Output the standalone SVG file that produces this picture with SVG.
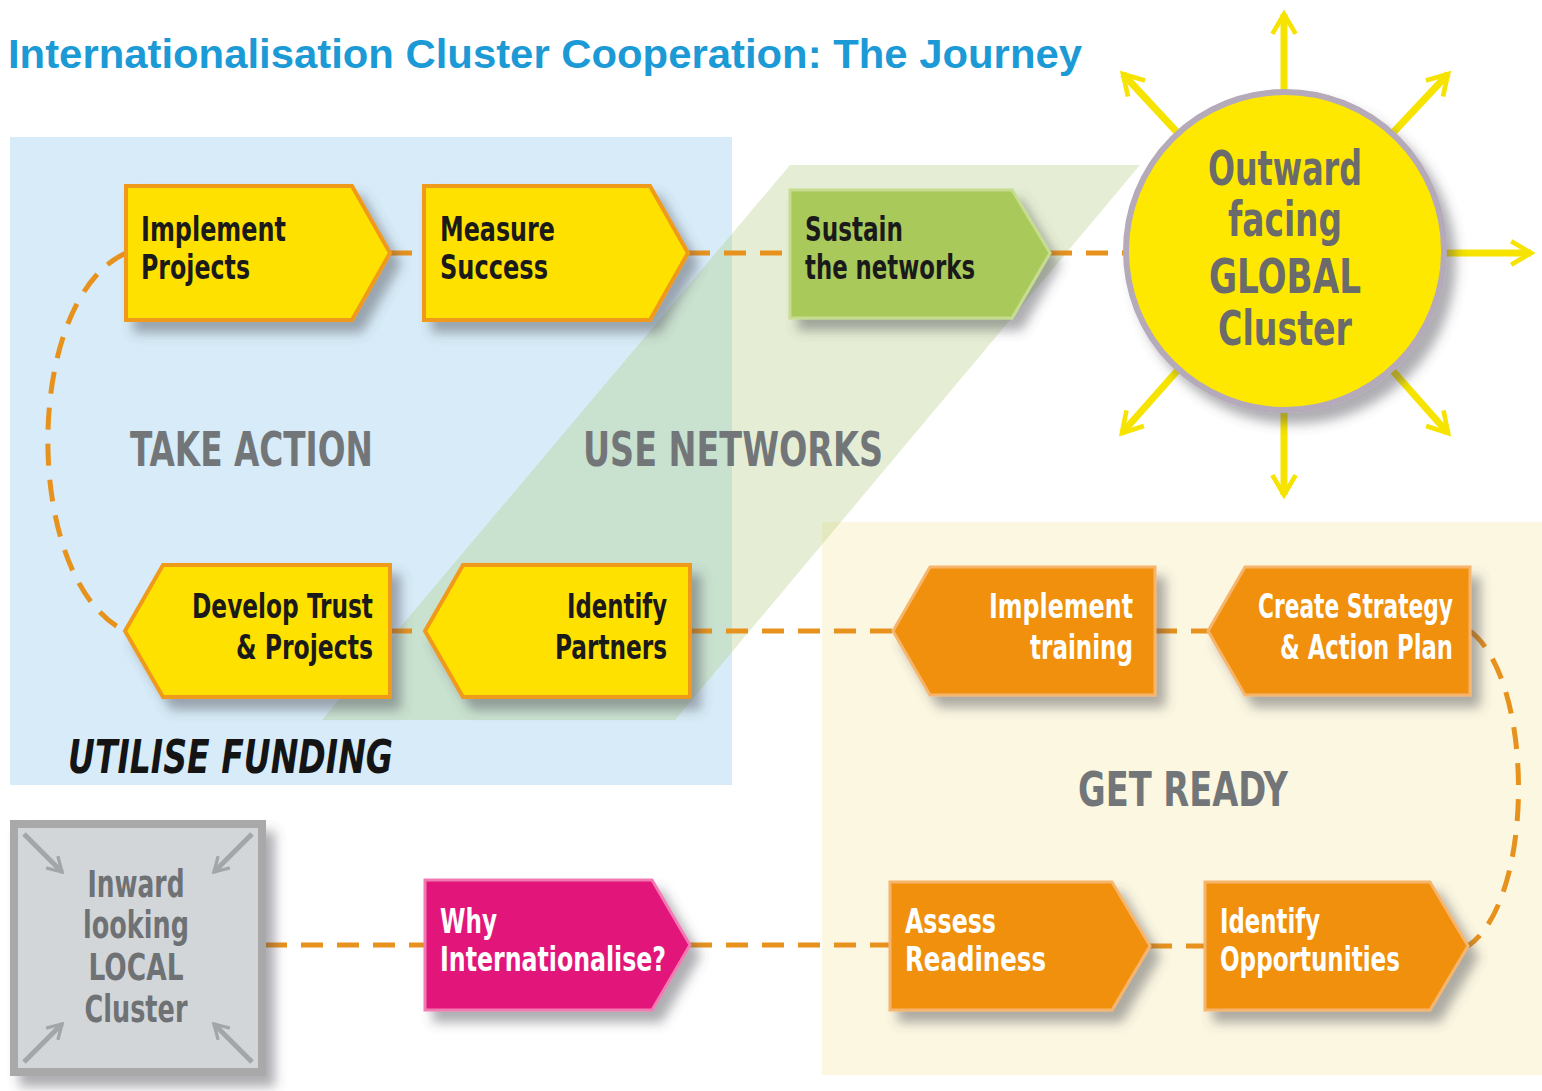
<svg xmlns="http://www.w3.org/2000/svg" width="1542" height="1091" viewBox="0 0 1542 1091">
<style>
.t{font-family:"Liberation Sans Narrow","DejaVu Sans Condensed","Liberation Sans",sans-serif;font-weight:bold;}
.nt{font-size:34px;fill:#1a1a1a;}
.wt{font-size:34px;fill:#ffffff;}
.big{font-size:48px;fill:#737678;}
.ylw{fill:#ffe100;stroke:#f09a1a;stroke-width:4;}
.org{fill:#f0900f;stroke:#f6b56c;stroke-width:3;}
.grn{fill:#a9c95a;stroke:#c6dc8e;stroke-width:3;}
.mag{fill:#e2137a;stroke:#f27ab2;stroke-width:3;}
.dash{fill:none;stroke:#e8921e;stroke-width:5;stroke-dasharray:22 14;}
.ray{stroke:#f6e400;stroke-width:7;fill:none;marker-end:url(#yhead);}
.garr{stroke:#a3a6a9;stroke-width:5;fill:none;marker-end:url(#ghead);}
</style>
<defs>
<filter id="sh" x="-20%" y="-20%" width="150%" height="160%">
<feDropShadow dx="9" dy="11" stdDeviation="6" flood-color="#4a4a55" flood-opacity="0.45"/>
</filter>
<marker id="yhead" viewBox="0 0 12 12" refX="10" refY="6" markerWidth="4" markerHeight="4" orient="auto">
<path d="M1.5,1 L10,6 L1.5,11" fill="none" stroke="#f6e400" stroke-width="2"/>
</marker>
<marker id="ghead" viewBox="0 0 12 12" refX="10" refY="6" markerWidth="4" markerHeight="4" orient="auto">
<path d="M1.5,1 L10,6 L1.5,11" fill="none" stroke="#a3a6a9" stroke-width="2"/>
</marker>
</defs>
<rect width="1542" height="1091" fill="#ffffff"/>

<g id="panels">
<rect x="10" y="137" width="722" height="648" fill="#d7ecf8"/>
<rect x="822" y="522" width="720" height="553" fill="#fcf7e1"/>
<polygon points="790,165 1140,165 675,720 322,720" fill="#a8c870" opacity="0.3"/>
</g>

<text x="8" y="68" font-family="'Liberation Sans',Arial,sans-serif" font-weight="bold" font-size="41" fill="#1b9ad6" textLength="1074" lengthAdjust="spacingAndGlyphs">Internationalisation Cluster Cooperation: The Journey</text>

<g id="labels" class="t">
<text class="big" x="130" y="466" textLength="243" lengthAdjust="spacingAndGlyphs">TAKE ACTION</text>
<text class="big" x="583" y="466" textLength="300" lengthAdjust="spacingAndGlyphs">USE NETWORKS</text>
<text class="big" x="1078" y="806" textLength="210" lengthAdjust="spacingAndGlyphs">GET READY</text>
<text x="68" y="773" font-size="46" font-style="italic" fill="#141414" textLength="325" lengthAdjust="spacingAndGlyphs">UTILISE FUNDING</text>
</g>

<g id="connectors">
<path class="dash" d="M390,253 H424"/>
<path class="dash" d="M688,253 H790"/>
<path class="dash" d="M1050,253 H1125"/>
<path class="dash" d="M126,253 C22,300 22,580 125,631"/>
<path class="dash" d="M390,631 H425"/>
<path class="dash" d="M690,631 H893"/>
<path class="dash" d="M1155,631 H1208"/>
<path class="dash" d="M1470,631 C1535,680 1535,900 1468,946"/>
<path class="dash" d="M265,945 H425"/>
<path class="dash" d="M690,945 H890"/>
<path class="dash" d="M1150,946 H1205"/>
</g>

<g id="global">
<line class="ray" x1="1284" y1="200" x2="1284" y2="14"/>
<line class="ray" x1="1284" y1="300" x2="1284" y2="495"/>
<line class="ray" x1="1330" y1="253" x2="1531" y2="253"/>
<line class="ray" x1="1330" y1="200" x2="1448" y2="74"/>
<line class="ray" x1="1240" y1="200" x2="1123" y2="74"/>
<line class="ray" x1="1330" y1="300" x2="1448" y2="433"/>
<line class="ray" x1="1240" y1="300" x2="1122" y2="433"/>
<circle cx="1285" cy="251" r="159" fill="#ffe800" stroke="#b4aab9" stroke-width="6" filter="url(#sh)"/>
<g class="t" font-size="48" fill="#6b6b6b" text-anchor="middle">
<text x="1285" y="185" textLength="154" lengthAdjust="spacingAndGlyphs">Outward</text>
<text x="1285" y="236" textLength="114" lengthAdjust="spacingAndGlyphs">facing</text>
<text x="1285" y="293" textLength="152" lengthAdjust="spacingAndGlyphs">GLOBAL</text>
<text x="1285" y="345" textLength="134" lengthAdjust="spacingAndGlyphs">Cluster</text>
</g>
</g>

<g id="local">
<rect x="14" y="824" width="248" height="248" fill="#d3d6d9" stroke="#a9a9a9" stroke-width="8" filter="url(#sh)"/>
<line class="garr" x1="24" y1="834" x2="62" y2="872"/>
<line class="garr" x1="252" y1="834" x2="214" y2="872"/>
<line class="garr" x1="24" y1="1062" x2="62" y2="1024"/>
<line class="garr" x1="252" y1="1062" x2="214" y2="1024"/>
<g class="t" font-size="37" fill="#6f7275" text-anchor="middle">
<text x="136" y="897" textLength="97" lengthAdjust="spacingAndGlyphs">Inward</text>
<text x="136" y="938" textLength="106" lengthAdjust="spacingAndGlyphs">looking</text>
<text x="136" y="980" textLength="95" lengthAdjust="spacingAndGlyphs">LOCAL</text>
<text x="136" y="1022" textLength="103" lengthAdjust="spacingAndGlyphs">Cluster</text>
</g>
</g>

<g id="implement-projects">
<polygon class="ylw" points="126,186 352,186 390,253 352,320 126,320" filter="url(#sh)"/>
<text class="t nt" x="141" y="241" textLength="145" lengthAdjust="spacingAndGlyphs">Implement</text>
<text class="t nt" x="141" y="279" textLength="109" lengthAdjust="spacingAndGlyphs">Projects</text>
</g>

<g id="measure-success">
<polygon class="ylw" points="424,186 650,186 688,253 650,320 424,320" filter="url(#sh)"/>
<text class="t nt" x="440" y="241" textLength="115" lengthAdjust="spacingAndGlyphs">Measure</text>
<text class="t nt" x="440" y="279" textLength="108" lengthAdjust="spacingAndGlyphs">Success</text>
</g>

<g id="sustain-networks">
<polygon class="grn" points="790,190 1012,190 1050,253 1012,318 790,318" filter="url(#sh)"/>
<text class="t nt" x="805" y="241" textLength="98" lengthAdjust="spacingAndGlyphs">Sustain</text>
<text class="t nt" x="805" y="279" textLength="170" lengthAdjust="spacingAndGlyphs">the networks</text>
</g>

<g id="develop-trust">
<polygon class="ylw" points="163,565 390,565 390,697 163,697 125,631" filter="url(#sh)"/>
<text class="t nt" x="373" y="618" text-anchor="end" textLength="181" lengthAdjust="spacingAndGlyphs">Develop Trust</text>
<text class="t nt" x="373" y="659" text-anchor="end" textLength="137" lengthAdjust="spacingAndGlyphs">&amp; Projects</text>
</g>

<g id="identify-partners">
<polygon class="ylw" points="463,565 690,565 690,697 463,697 425,631" filter="url(#sh)"/>
<text class="t nt" x="667" y="618" text-anchor="end" textLength="100" lengthAdjust="spacingAndGlyphs">Identify</text>
<text class="t nt" x="667" y="659" text-anchor="end" textLength="112" lengthAdjust="spacingAndGlyphs">Partners</text>
</g>

<g id="implement-training">
<polygon class="org" points="930,567 1155,567 1155,695 930,695 893,631" filter="url(#sh)"/>
<text class="t wt" x="1133" y="618" text-anchor="end" textLength="144" lengthAdjust="spacingAndGlyphs">Implement</text>
<text class="t wt" x="1133" y="659" text-anchor="end" textLength="103" lengthAdjust="spacingAndGlyphs">training</text>
</g>

<g id="create-strategy">
<polygon class="org" points="1245,567 1470,567 1470,695 1245,695 1208,631" filter="url(#sh)"/>
<text class="t wt" x="1453" y="618" text-anchor="end" textLength="195" lengthAdjust="spacingAndGlyphs">Create Strategy</text>
<text class="t wt" x="1453" y="659" text-anchor="end" textLength="173" lengthAdjust="spacingAndGlyphs">&amp; Action Plan</text>
</g>

<g id="why-internationalise">
<polygon class="mag" points="425,880 652,880 690,945 652,1010 425,1010" filter="url(#sh)"/>
<text class="t wt" x="440" y="933" textLength="57" lengthAdjust="spacingAndGlyphs">Why</text>
<text class="t wt" x="440" y="971" textLength="226" lengthAdjust="spacingAndGlyphs">Internationalise?</text>
</g>

<g id="assess-readiness">
<polygon class="org" points="890,882 1112,882 1150,946 1112,1010 890,1010" filter="url(#sh)"/>
<text class="t wt" x="905" y="933" textLength="91" lengthAdjust="spacingAndGlyphs">Assess</text>
<text class="t wt" x="905" y="971" textLength="141" lengthAdjust="spacingAndGlyphs">Readiness</text>
</g>

<g id="identify-opportunities">
<polygon class="org" points="1205,882 1430,882 1468,946 1430,1010 1205,1010" filter="url(#sh)"/>
<text class="t wt" x="1220" y="933" textLength="100" lengthAdjust="spacingAndGlyphs">Identify</text>
<text class="t wt" x="1220" y="971" textLength="180" lengthAdjust="spacingAndGlyphs">Opportunities</text>
</g>
</svg>
